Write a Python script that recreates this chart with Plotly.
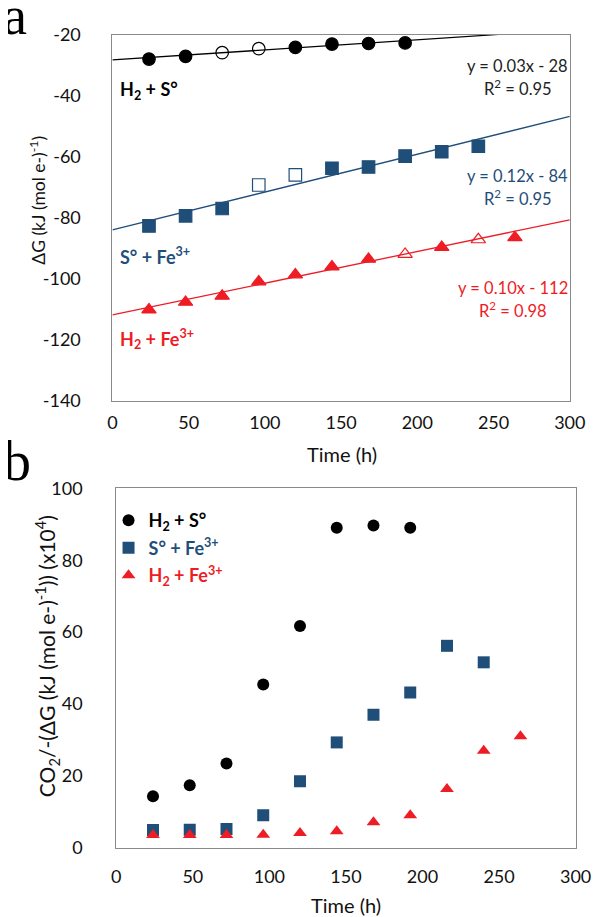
import plotly.graph_objects as go

# ---------------- data: panel a (ΔG vs time) ----------------
time_a_hs = [24, 48, 72, 96, 120, 144, 168, 192]
dg_hs = [-28.0, -27.1, -25.9, -24.6, -24.2, -23.1, -22.9, -22.7]
open_hs = [0, 0, 1, 1, 0, 0, 0, 0]

time_a_sf = [24, 48, 72, 96, 120, 144, 168, 192, 216, 240]
dg_sf = [-82.7, -79.4, -77.0, -69.3, -66.0, -63.8, -63.4, -59.8, -58.4, -56.6]
open_sf = [0, 0, 0, 1, 1, 0, 0, 0, 0, 0]

time_a_hf = [24, 48, 72, 96, 120, 144, 168, 192, 216, 240, 264]
dg_hf = [-110.2, -107.7, -105.7, -101.0, -98.7, -96.1, -93.6, -92.0, -89.7, -87.2, -86.5]
open_hf = [0, 0, 0, 0, 0, 0, 0, 1, 0, 1, 0]

# trendline coefficients (slope, intercept) as drawn
trend_slopes = [0.033, 0.124, 0.104]
trend_intercepts = [-28.3, -84.0, -111.9]
trend_x = [0, 300]
eq_texts = ["y = 0.03x - 28", "y = 0.12x - 84", "y = 0.10x - 112"]
r2_texts = ["R<sup>2</sup> = 0.95", "R<sup>2</sup> = 0.95", "R<sup>2</sup> = 0.98"]

# ---------------- data: panel b (CO2 / -ΔG) ----------------
time_b_hs = [24, 48, 72, 96, 120, 144, 168, 192]
ratio_hs = [14.3, 17.4, 23.4, 45.4, 61.7, 89.1, 89.7, 89.1]
time_b_sf = [24, 48, 72, 96, 120, 144, 168, 192, 216, 240]
ratio_sf = [4.9, 5.0, 5.2, 9.0, 18.5, 29.3, 37.0, 43.2, 56.2, 51.6]
time_b_hf = [24, 48, 72, 96, 120, 144, 168, 192, 216, 240, 264]
ratio_hf = [3.5, 3.5, 3.5, 3.6, 4.1, 4.6, 7.1, 9.0, 16.3, 27.0, 31.0]

series_names = ["<b>H<sub>2</sub> + S°</b>", "<b>S° + Fe<sup>3+</sup></b>", "<b>H<sub>2</sub> + Fe<sup>3+</sup></b>"]

# tick labels
x_ticks = [0, 50, 100, 150, 200, 250, 300]
ya_ticks = [-140, -120, -100, -80, -60, -40, -20]
ya_labels = ["-140", "-120", "-100", "-80", "-60", "-40", "-20"]
yb_ticks = [0, 20, 40, 60, 80, 100]

# ---------------- style ----------------
W, H = 600, 917
BLACK = "#000000"
BLUE = "#1F4E79"
RED = "#EE1C25"
colors = [BLACK, BLUE, RED]
FONT = "Lato"
AXCOL = "#8a8a8a"
TXT = "#111111"


def px(x):
    return x / W


def py(y):
    return 1 - y / H


fig = go.Figure()

# panel a markers + trendlines
base_syms = ["circle", "square", "triangle-up"]
a_sets = [(time_a_hs, dg_hs, open_hs), (time_a_sf, dg_sf, open_sf), (time_a_hf, dg_hf, open_hf)]
for i, (xs, ys, op) in enumerate(a_sets):
    tx = trend_x
    ty = [trend_slopes[i] * x + trend_intercepts[i] for x in tx]
    fig.add_trace(go.Scatter(x=tx, y=ty, mode="lines", line=dict(color=colors[i], width=1.3),
                             xaxis="x", yaxis="y", showlegend=False, hoverinfo="skip"))
    syms = [base_syms[i] + ("-open" if o else "") for o in op]
    fig.add_trace(go.Scatter(x=xs, y=ys, mode="markers",
                             marker=dict(symbol=syms, size=12.5, color=colors[i],
                                         line=dict(width=1.2, color=colors[i])),
                             xaxis="x", yaxis="y", showlegend=False))

# panel b markers
b_sets = [(time_b_hs, ratio_hs), (time_b_sf, ratio_sf), (time_b_hf, ratio_hf)]
b_sizes = [12, 12, 12]
for i, (xs, ys) in enumerate(b_sets):
    fig.add_trace(go.Scatter(x=xs, y=ys, mode="markers",
                             marker=dict(symbol=base_syms[i], size=b_sizes[i], color=colors[i],
                                         line=dict(width=0)),
                             name='<span style="color:%s">%s</span>' % (colors[i], series_names[i]),
                             legendgroup="g%d" % i,
                             xaxis="x2", yaxis="y2", showlegend=True))

axis_common = dict(showgrid=False, zeroline=False, showline=True, mirror=True,
                   linecolor=AXCOL, linewidth=1, ticks="",
                   tickfont=dict(family=FONT, size=18, color=TXT))

fig.update_layout(
    width=W, height=H,
    margin=dict(l=0, r=0, t=0, b=0),
    paper_bgcolor="white", plot_bgcolor="white",
    xaxis=dict(domain=[px(103), px(577)], range=[0, 300], tickvals=x_ticks, anchor="y",
               ticklabelstandoff=6, **axis_common),
    yaxis=dict(domain=[py(390), py(15)], range=[-140, -20], tickvals=ya_ticks, ticktext=ya_labels,
               anchor="x", ticklabelstandoff=27, **axis_common),
    xaxis2=dict(domain=[px(107), px(583)], range=[0, 300], tickvals=x_ticks, anchor="y2",
                ticklabelstandoff=13, **axis_common),
    yaxis2=dict(domain=[py(848), py(480)], range=[0, 100], tickvals=yb_ticks, anchor="x2",
                ticklabelstandoff=29, **axis_common),
    legend=dict(x=px(99), y=py(494), xanchor="left", yanchor="top",
                bgcolor="rgba(0,0,0,0)", font=dict(family=FONT, size=18),
                itemwidth=30, tracegroupgap=1, traceorder="grouped"),
    font=dict(family=FONT),
)

ann = []


def add_text(text, x, y, size, color=TXT, xanchor="center", yanchor="middle", angle=0, family=FONT):
    ann.append(dict(text=text, x=px(x), y=py(y), xref="paper", yref="paper",
                    xanchor=xanchor, yanchor=yanchor, textangle=angle, showarrow=False,
                    font=dict(family=family, size=size, color=color)))


# panel letters
add_text("a", -12, 29, 54, "black", xanchor="left", yanchor="bottom", family="Liberation Serif")
add_text("b", -12, 486, 56, "black", xanchor="left", yanchor="bottom", family="Liberation Serif")
# axis titles
add_text("ΔG (kJ (mol e-)<sup>-1</sup>)", 25, 185, 17.5, angle=-90)
add_text("Time (h)", 341, 445, 20)
add_text("CO<sub>2</sub>/-(ΔG (kJ (mol e-)<sup>-1</sup>)) (x10<sup>4</sup>)", 35, 652, 21, angle=-90)
add_text("Time (h)", 345, 907, 20)
# series labels in panel a
lab_y = [72, 242, 327]
for i in range(3):
    add_text(series_names[i], 109, lab_y[i], 18, colors[i], xanchor="left")
# trend equations
eq_cx = [523, 523, 518]
eq_y = [47, 160, 275]
r2_y = [70, 182, 297]
for i in range(3):
    c = colors[i] if i else "#222222"
    add_text(eq_texts[i], eq_cx[i], eq_y[i], 16.5, c)
    add_text(r2_texts[i], eq_cx[i], r2_y[i], 16.5, c)

fig.update_layout(annotations=ann)
fig.write_html("out.html")
